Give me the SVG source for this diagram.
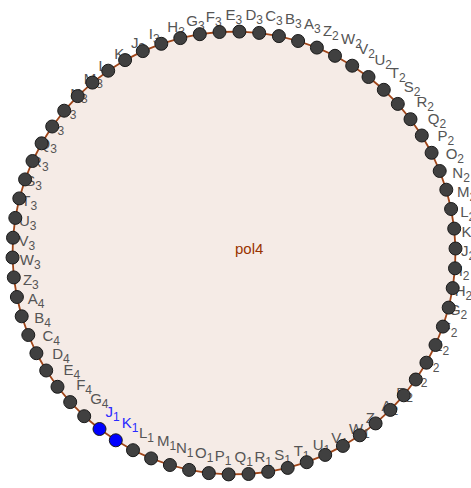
<svg xmlns="http://www.w3.org/2000/svg" width="471" height="488" viewBox="0 0 471 488">
<style>
.bg{fill:#ffffff}
.fill{fill:#f5ebe6;stroke:none}
.edge{fill:none;stroke:#a0461a;stroke-width:1.8;stroke-linejoin:round}
.poly-label{font-family:"Liberation Sans",Arial,sans-serif;font-size:15px;fill:#993300}
.pt use{fill:#404040;stroke:#1a1a1a;stroke-width:1}
.pt text{font-family:"Liberation Sans",Arial,sans-serif;font-size:15px;fill:#555555}
.pt text tspan{font-size:12px}
.pt.free use{fill:#0000ff}
.pt.free text{fill:#2a2aff}
</style>
<defs>
<circle id="dot" cx="0" cy="0" r="6.5"/>
</defs>
<rect class="bg" x="0" y="0" width="471" height="488"/>
<g id="pol4">
<polygon class="fill" points="99.5,429 115.8,440.3 133,450.2 151.1,458.4 169.9,465 189.1,469.9 208.8,473.1 228.6,474.4 248.5,474 268.2,471.8 287.7,467.9 306.7,462.2 325.2,454.9 342.9,445.9 359.8,435.3 375.6,423.4 390.3,409.9 403.8,395.3 415.8,379.5 426.4,362.7 435.5,345 442.9,326.6 448.7,307.6 452.7,288.1 455,268.3 455.5,248.5 454.2,228.6 451.1,209 446.3,189.7 439.7,171 431.6,152.8 421.8,135.5 410.5,119.2 397.8,103.9 383.8,89.8 368.5,77 352.2,65.7 335,55.8 316.9,47.6 298.1,41 278.9,36.1 259.2,32.9 239.4,31.6 219.5,32 199.8,34.2 180.3,38.1 161.3,43.8 142.8,51.1 125.1,60.1 108.2,70.7 92.4,82.6 77.7,96.1 64.2,110.7 52.2,126.5 41.6,143.3 32.5,161 25.1,179.4 19.3,198.4 15.3,217.9 13,237.7 12.5,257.5 13.8,277.4 16.9,297 21.7,316.3 28.3,335 36.4,353.2 46.2,370.5 57.5,386.8 70.2,402.1 84.2,416.2"/>
<text class="poly-label" x="235" y="254">pol4</text>
</g>
<g id="connectors">
<polygon class="edge" points="99.5,429 115.8,440.3 133,450.2 151.1,458.4 169.9,465 189.1,469.9 208.8,473.1 228.6,474.4 248.5,474 268.2,471.8 287.7,467.9 306.7,462.2 325.2,454.9 342.9,445.9 359.8,435.3 375.6,423.4 390.3,409.9 403.8,395.3 415.8,379.5 426.4,362.7 435.5,345 442.9,326.6 448.7,307.6 452.7,288.1 455,268.3 455.5,248.5 454.2,228.6 451.1,209 446.3,189.7 439.7,171 431.6,152.8 421.8,135.5 410.5,119.2 397.8,103.9 383.8,89.8 368.5,77 352.2,65.7 335,55.8 316.9,47.6 298.1,41 278.9,36.1 259.2,32.9 239.4,31.6 219.5,32 199.8,34.2 180.3,38.1 161.3,43.8 142.8,51.1 125.1,60.1 108.2,70.7 92.4,82.6 77.7,96.1 64.2,110.7 52.2,126.5 41.6,143.3 32.5,161 25.1,179.4 19.3,198.4 15.3,217.9 13,237.7 12.5,257.5 13.8,277.4 16.9,297 21.7,316.3 28.3,335 36.4,353.2 46.2,370.5 57.5,386.8 70.2,402.1 84.2,416.2"/>
</g>
<g id="points">
<g id="J1" class="pt free" transform="translate(99.5,429)"><text x="6" y="-12">J<tspan dy="4">1</tspan></text><use href="#dot"/></g>
<g id="K1" class="pt free" transform="translate(115.8,440.3)"><text x="6" y="-12">K<tspan dy="4">1</tspan></text><use href="#dot"/></g>
<g id="L1" class="pt" transform="translate(133,450.2)"><text x="6" y="-12">L<tspan dy="4">1</tspan></text><use href="#dot"/></g>
<g id="M1" class="pt" transform="translate(151.1,458.4)"><text x="6" y="-12">M<tspan dy="4">1</tspan></text><use href="#dot"/></g>
<g id="N1" class="pt" transform="translate(169.9,465)"><text x="6" y="-12">N<tspan dy="4">1</tspan></text><use href="#dot"/></g>
<g id="O1" class="pt" transform="translate(189.1,469.9)"><text x="6" y="-12">O<tspan dy="4">1</tspan></text><use href="#dot"/></g>
<g id="P1" class="pt" transform="translate(208.8,473.1)"><text x="6" y="-12">P<tspan dy="4">1</tspan></text><use href="#dot"/></g>
<g id="Q1" class="pt" transform="translate(228.6,474.4)"><text x="6" y="-12">Q<tspan dy="4">1</tspan></text><use href="#dot"/></g>
<g id="R1" class="pt" transform="translate(248.5,474)"><text x="6" y="-12">R<tspan dy="4">1</tspan></text><use href="#dot"/></g>
<g id="S1" class="pt" transform="translate(268.2,471.8)"><text x="6" y="-12">S<tspan dy="4">1</tspan></text><use href="#dot"/></g>
<g id="T1" class="pt" transform="translate(287.7,467.9)"><text x="6" y="-12">T<tspan dy="4">1</tspan></text><use href="#dot"/></g>
<g id="U1" class="pt" transform="translate(306.7,462.2)"><text x="6" y="-12">U<tspan dy="4">1</tspan></text><use href="#dot"/></g>
<g id="V1" class="pt" transform="translate(325.2,454.9)"><text x="6" y="-12">V<tspan dy="4">1</tspan></text><use href="#dot"/></g>
<g id="W1" class="pt" transform="translate(342.9,445.9)"><text x="6" y="-12">W<tspan dy="4">1</tspan></text><use href="#dot"/></g>
<g id="Z1" class="pt" transform="translate(359.8,435.3)"><text x="6" y="-12">Z<tspan dy="4">1</tspan></text><use href="#dot"/></g>
<g id="A2" class="pt" transform="translate(375.6,423.4)"><text x="6" y="-12">A<tspan dy="4">2</tspan></text><use href="#dot"/></g>
<g id="B2" class="pt" transform="translate(390.3,409.9)"><text x="6" y="-12">B<tspan dy="4">2</tspan></text><use href="#dot"/></g>
<g id="C2" class="pt" transform="translate(403.8,395.3)"><text x="6" y="-12">C<tspan dy="4">2</tspan></text><use href="#dot"/></g>
<g id="D2" class="pt" transform="translate(415.8,379.5)"><text x="6" y="-12">D<tspan dy="4">2</tspan></text><use href="#dot"/></g>
<g id="E2" class="pt" transform="translate(426.4,362.7)"><text x="6" y="-12">E<tspan dy="4">2</tspan></text><use href="#dot"/></g>
<g id="F2" class="pt" transform="translate(435.5,345)"><text x="6" y="-12">F<tspan dy="4">2</tspan></text><use href="#dot"/></g>
<g id="G2" class="pt" transform="translate(442.9,326.6)"><text x="6" y="-12">G<tspan dy="4">2</tspan></text><use href="#dot"/></g>
<g id="H2" class="pt" transform="translate(448.7,307.6)"><text x="6" y="-12">H<tspan dy="4">2</tspan></text><use href="#dot"/></g>
<g id="I2" class="pt" transform="translate(452.7,288.1)"><text x="6" y="-12">I<tspan dy="4">2</tspan></text><use href="#dot"/></g>
<g id="J2" class="pt" transform="translate(455,268.3)"><text x="6" y="-12">J<tspan dy="4">2</tspan></text><use href="#dot"/></g>
<g id="K2" class="pt" transform="translate(455.5,248.5)"><text x="6" y="-12">K<tspan dy="4">2</tspan></text><use href="#dot"/></g>
<g id="L2" class="pt" transform="translate(454.2,228.6)"><text x="6" y="-12">L<tspan dy="4">2</tspan></text><use href="#dot"/></g>
<g id="M2" class="pt" transform="translate(451.1,209)"><text x="6" y="-12">M<tspan dy="4">2</tspan></text><use href="#dot"/></g>
<g id="N2" class="pt" transform="translate(446.3,189.7)"><text x="6" y="-12">N<tspan dy="4">2</tspan></text><use href="#dot"/></g>
<g id="O2" class="pt" transform="translate(439.7,171)"><text x="6" y="-12">O<tspan dy="4">2</tspan></text><use href="#dot"/></g>
<g id="P2" class="pt" transform="translate(431.6,152.8)"><text x="6" y="-12">P<tspan dy="4">2</tspan></text><use href="#dot"/></g>
<g id="Q2" class="pt" transform="translate(421.8,135.5)"><text x="6" y="-12">Q<tspan dy="4">2</tspan></text><use href="#dot"/></g>
<g id="R2" class="pt" transform="translate(410.5,119.2)"><text x="6" y="-12">R<tspan dy="4">2</tspan></text><use href="#dot"/></g>
<g id="S2" class="pt" transform="translate(397.8,103.9)"><text x="6" y="-12">S<tspan dy="4">2</tspan></text><use href="#dot"/></g>
<g id="T2" class="pt" transform="translate(383.8,89.8)"><text x="6" y="-12">T<tspan dy="4">2</tspan></text><use href="#dot"/></g>
<g id="U2" class="pt" transform="translate(368.5,77)"><text x="6" y="-12">U<tspan dy="4">2</tspan></text><use href="#dot"/></g>
<g id="V2" class="pt" transform="translate(352.2,65.7)"><text x="6" y="-12">V<tspan dy="4">2</tspan></text><use href="#dot"/></g>
<g id="W2" class="pt" transform="translate(335,55.8)"><text x="6" y="-12">W<tspan dy="4">2</tspan></text><use href="#dot"/></g>
<g id="Z2" class="pt" transform="translate(316.9,47.6)"><text x="6" y="-12">Z<tspan dy="4">2</tspan></text><use href="#dot"/></g>
<g id="A3" class="pt" transform="translate(298.1,41)"><text x="6" y="-12">A<tspan dy="4">3</tspan></text><use href="#dot"/></g>
<g id="B3" class="pt" transform="translate(278.9,36.1)"><text x="6" y="-12">B<tspan dy="4">3</tspan></text><use href="#dot"/></g>
<g id="C3" class="pt" transform="translate(259.2,32.9)"><text x="6" y="-12">C<tspan dy="4">3</tspan></text><use href="#dot"/></g>
<g id="G4" class="pt" transform="translate(84.2,416.2)"><text x="6" y="-12">G<tspan dy="4">4</tspan></text><use href="#dot"/></g>
<g id="F4" class="pt" transform="translate(70.2,402.1)"><text x="6" y="-12">F<tspan dy="4">4</tspan></text><use href="#dot"/></g>
<g id="E4" class="pt" transform="translate(57.5,386.8)"><text x="6" y="-12">E<tspan dy="4">4</tspan></text><use href="#dot"/></g>
<g id="D4" class="pt" transform="translate(46.2,370.5)"><text x="6" y="-12">D<tspan dy="4">4</tspan></text><use href="#dot"/></g>
<g id="C4" class="pt" transform="translate(36.4,353.2)"><text x="6" y="-12">C<tspan dy="4">4</tspan></text><use href="#dot"/></g>
<g id="B4" class="pt" transform="translate(28.3,335)"><text x="6" y="-12">B<tspan dy="4">4</tspan></text><use href="#dot"/></g>
<g id="A4" class="pt" transform="translate(21.7,316.3)"><text x="6" y="-12">A<tspan dy="4">4</tspan></text><use href="#dot"/></g>
<g id="Z3" class="pt" transform="translate(16.9,297)"><text x="6" y="-12">Z<tspan dy="4">3</tspan></text><use href="#dot"/></g>
<g id="W3" class="pt" transform="translate(13.8,277.4)"><text x="6" y="-12">W<tspan dy="4">3</tspan></text><use href="#dot"/></g>
<g id="V3" class="pt" transform="translate(12.5,257.5)"><text x="6" y="-12">V<tspan dy="4">3</tspan></text><use href="#dot"/></g>
<g id="U3" class="pt" transform="translate(13,237.7)"><text x="6" y="-12">U<tspan dy="4">3</tspan></text><use href="#dot"/></g>
<g id="T3" class="pt" transform="translate(15.3,217.9)"><text x="6" y="-12">T<tspan dy="4">3</tspan></text><use href="#dot"/></g>
<g id="S3" class="pt" transform="translate(19.3,198.4)"><text x="6" y="-12">S<tspan dy="4">3</tspan></text><use href="#dot"/></g>
<g id="R3" class="pt" transform="translate(25.1,179.4)"><text x="6" y="-12">R<tspan dy="4">3</tspan></text><use href="#dot"/></g>
<g id="Q3" class="pt" transform="translate(32.5,161)"><text x="6" y="-12">Q<tspan dy="4">3</tspan></text><use href="#dot"/></g>
<g id="P3" class="pt" transform="translate(41.6,143.3)"><text x="6" y="-12">P<tspan dy="4">3</tspan></text><use href="#dot"/></g>
<g id="O3" class="pt" transform="translate(52.2,126.5)"><text x="6" y="-12">O<tspan dy="4">3</tspan></text><use href="#dot"/></g>
<g id="N3" class="pt" transform="translate(64.2,110.7)"><text x="6" y="-12">N<tspan dy="4">3</tspan></text><use href="#dot"/></g>
<g id="M3" class="pt" transform="translate(77.7,96.1)"><text x="6" y="-12">M<tspan dy="4">3</tspan></text><use href="#dot"/></g>
<g id="L3" class="pt" transform="translate(92.4,82.6)"><text x="6" y="-12">L<tspan dy="4">3</tspan></text><use href="#dot"/></g>
<g id="K3" class="pt" transform="translate(108.2,70.7)"><text x="6" y="-12">K<tspan dy="4">3</tspan></text><use href="#dot"/></g>
<g id="J3" class="pt" transform="translate(125.1,60.1)"><text x="6" y="-12">J<tspan dy="4">3</tspan></text><use href="#dot"/></g>
<g id="I3" class="pt" transform="translate(142.8,51.1)"><text x="6" y="-12">I<tspan dy="4">3</tspan></text><use href="#dot"/></g>
<g id="H3" class="pt" transform="translate(161.3,43.8)"><text x="6" y="-12">H<tspan dy="4">3</tspan></text><use href="#dot"/></g>
<g id="G3" class="pt" transform="translate(180.3,38.1)"><text x="6" y="-12">G<tspan dy="4">3</tspan></text><use href="#dot"/></g>
<g id="F3" class="pt" transform="translate(199.8,34.2)"><text x="6" y="-12">F<tspan dy="4">3</tspan></text><use href="#dot"/></g>
<g id="E3" class="pt" transform="translate(219.5,32)"><text x="6" y="-12">E<tspan dy="4">3</tspan></text><use href="#dot"/></g>
<g id="D3" class="pt" transform="translate(239.4,31.6)"><text x="6" y="-12">D<tspan dy="4">3</tspan></text><use href="#dot"/></g>
</g>
</svg>
